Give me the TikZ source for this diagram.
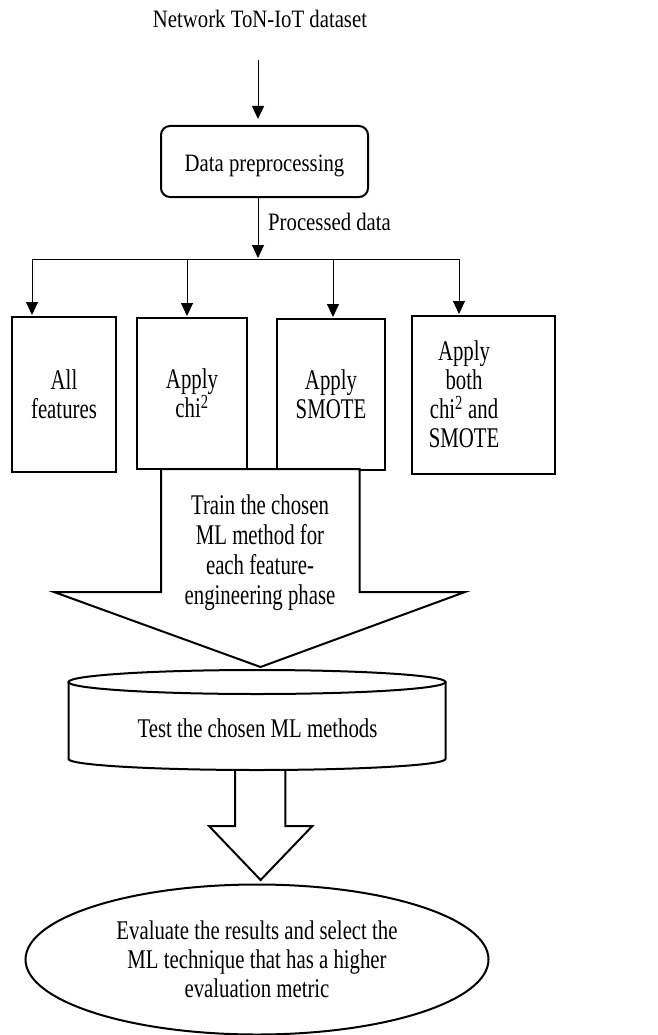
\documentclass[tikz,border=0pt]{standalone}
\usepackage{fontspec}
\setmainfont[FakeStretch=0.77]{Liberation Serif}
\newfontfamily\smallserif[FakeStretch=0.83]{Liberation Serif}
\newfontfamily\boxserif[FakeStretch=0.73]{Liberation Serif}
\usetikzlibrary{arrows.meta,shapes.geometric}
\begin{document}
\begin{tikzpicture}[x=1pt,y=-1pt,
  every node/.style={font=\fontsize{27}{29}\selectfont, inner sep=0pt},
  toptext/.style={font=\smallserif\fontsize{25}{29}\selectfont},
  boxtext/.style={font=\boxserif\fontsize{28.5}{29}\selectfont},
  thickbox/.style={draw, line width=2pt},
  shapeline/.style={line width=2pt, line join=miter},
  conn/.style={line width=1pt, -{Triangle[length=13pt,width=12pt]}},
  plainline/.style={line width=1pt}]
\useasboundingbox (0,0) rectangle (657,1035);

% title
\node[toptext, anchor=base] (title) at (260,28) {Network ToN-IoT dataset};
\coordinate (a0) at (258,60);

% preprocessing
\node[thickbox, toptext, rounded corners=9pt, minimum width=207pt, minimum height=71pt] (prep) at (264.5,161.5)
  {\raisebox{-4.5pt}[\height][\depth]{Data preprocessing}};
\draw[conn, shorten >=6pt] (a0) -- (a0 |- prep.north);

\coordinate (split) at (258,258);
\draw[conn] (a0 |- prep.south) -- (split);
\node[toptext, anchor=base west] (proc) at (268,230) {Processed data};

% horizontal distribution line
\coordinate (d1) at (32,259);
\coordinate (d2) at (187,259);
\coordinate (d3) at (333,259);
\coordinate (d4) at (459,259);
\draw[plainline] (d1) -- (d4);

% boxes
\node[thickbox, boxtext, align=center, minimum width=104pt, minimum height=155pt] (b1) at (64,394.5) {All\\features};
\node[thickbox, boxtext, align=center, minimum width=110pt, minimum height=151pt] (b2) at (192,393.5) {Apply\\chi\textsuperscript{2}};
\node[thickbox, boxtext, align=center, minimum width=108pt, minimum height=151pt] (b3) at (331,394.5) {Apply\\SMOTE};
\node[thickbox, minimum width=143pt, minimum height=158pt] (b4) at (483.5,395) {};
\node[boxtext, align=center] (b4text) at (464,394.6) {Apply\\both\\chi\textsuperscript{2} and\\SMOTE};

\draw[conn, shorten >=1pt] (d1) -- (d1 |- b1.north);
\draw[conn, shorten >=1pt] (d2) -- (d2 |- b2.north);
\draw[conn, shorten >=1pt] (d3) -- (d3 |- b3.north);
\draw[conn, shorten >=1pt] (d4) -- (d4 |- b4.north);

% train block arrow
\draw[shapeline, fill=white] (161,469) -- (359.5,469) -- (359.5,592) -- (465,592) -- (260.5,667) -- (54,592) -- (161,592) -- cycle;
\node[boxtext, align=center, font=\boxserif\fontsize{28.5}{30}\selectfont] (train) at (260,552.5)
  {Train the chosen\\ML method for\\each feature-\\engineering phase};

% cylinder
\draw[shapeline] (257,682) ellipse [x radius=188.5, y radius=12];
\draw[shapeline] (68.5,682) -- (68.5,759) arc[start angle=180, end angle=0, x radius=188.5, y radius=11] -- (445.5,682);
\node[anchor=base] (test) at (257.5,737) {Test the chosen ML methods};

% down block arrow
\draw[shapeline] (235,770) -- (235,826) -- (209,826) -- (260.6,880) -- (312.4,826) -- (285.3,826) -- (285.3,770);

% evaluation ellipse
\node[ellipse, draw, line width=2pt, align=center, minimum width=463pt, minimum height=150pt] (eval) at (257,959.5)
  {Evaluate the results and select the\\ML technique that has a higher\\evaluation metric};
\end{tikzpicture}
\end{document}
